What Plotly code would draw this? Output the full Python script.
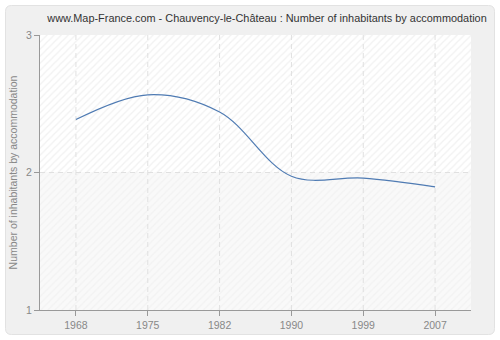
import plotly.graph_objects as go

years = ["1968", "1975", "1982", "1990", "1999", "2007"]
values = [2.385, 2.565, 2.44, 1.973, 1.959, 1.896]
y_ticks = [1, 2, 3]
title = "www.Map-France.com - Chauvency-le-Château : Number of inhabitants by accommodation"
y_title = "Number of inhabitants by accommodation"

W, H = 500, 340
L, R, T, B = 40, 29, 35, 30
pw, ph = W - L - R, H - T - B

def px_x(p):
    return (p - L) / pw

def px_y(p):
    return 1 - (p - T) / ph

xi = list(range(len(years)))
xmin, xmax = -0.5, len(years) - 0.5
ymin, ymax = y_ticks[0], y_ticks[-1]
ymid = y_ticks[1]

fig = go.Figure()

# hatched plot background (upper and lower halves)
for (a, b, col, bg) in [(ymid, ymax, "#e3e3e3", "#ffffff"), (ymin, ymid, "#ebebeb", "#f9f9f9")]:
    fig.add_trace(go.Scatter(
        x=[xmin, xmax, xmax, xmin, xmin], y=[a, a, b, b, a],
        mode="none", fill="toself",
        fillcolor=bg,
        fillpattern=dict(shape="/", fgcolor=col, bgcolor=bg, size=5, solidity=0.25),
        hoverinfo="skip", showlegend=False,
    ))

# dashed grid drawn above the hatched background
grid = dict(color="#e0e0e0", width=1, dash="5px,4px")
for i in xi:
    fig.add_trace(go.Scatter(x=[i, i], y=[ymin, ymax], mode="lines", line=grid,
                             hoverinfo="skip", showlegend=False))
for v in y_ticks[1:-1]:
    fig.add_trace(go.Scatter(x=[xmin, xmax], y=[v, v], mode="lines", line=grid,
                             hoverinfo="skip", showlegend=False))

fig.add_trace(go.Scatter(
    x=xi, y=values, mode="lines",
    line=dict(color="#4f7bb3", width=1.2, shape="spline", smoothing=1.0),
    showlegend=False,
))

# rounded outer frame
x0, x1 = px_x(5.5), px_x(494.5)
y0, y1 = px_y(334.5), px_y(5.5)
rx = 6 / pw
ry = 6 / ph
path = (f"M {x0+rx},{y0} L {x1-rx},{y0} Q {x1},{y0} {x1},{y0+ry} "
        f"L {x1},{y1-ry} Q {x1},{y1} {x1-rx},{y1} L {x0+rx},{y1} "
        f"Q {x0},{y1} {x0},{y1-ry} L {x0},{y0+ry} Q {x0},{y0} {x0+rx},{y0} Z")
fig.add_shape(type="path", path=path, xref="paper", yref="paper",
              fillcolor="#f0f0f0", line=dict(color="#e2e2e2", width=1), layer="below")

fig.update_layout(
    width=W, height=H,
    margin=dict(l=L, r=R, t=T, b=B, autoexpand=False),
    paper_bgcolor="#ffffff",
    plot_bgcolor="#ffffff",
    font=dict(family="Liberation Sans", size=10.5, color="#888888"),
    title=dict(text=title, x=267 / W, xref="container", xanchor="center",
               y=1 - 18 / H, yanchor="middle",
               font=dict(family="Liberation Sans", size=10.9, color="#333333")),
    xaxis=dict(range=[xmin, xmax], tickvals=xi, ticktext=years, showgrid=False,
               showline=True, linecolor="#999999", linewidth=1,
               ticks="outside", ticklen=5, tickcolor="#999999",
               tickfont=dict(size=10.5, color="#888888"), zeroline=False,
               automargin=False),
    yaxis=dict(range=[ymin, ymax], tickvals=y_ticks, showgrid=False,
               showline=True, linecolor="#999999", linewidth=1,
               ticks="outside", ticklen=5, tickcolor="#999999",
               tickfont=dict(size=10.5, color="#888888"), zeroline=False,
               automargin=False,
               title=dict(text=y_title, standoff=6,
                          font=dict(size=10.5, color="#888888"))),
)

fig.write_html("out.html", config={"displayModeBar": False},
               post_script="document.body.style.margin='0';document.body.style.padding='0';window.dispatchEvent(new Event('resize'));")
